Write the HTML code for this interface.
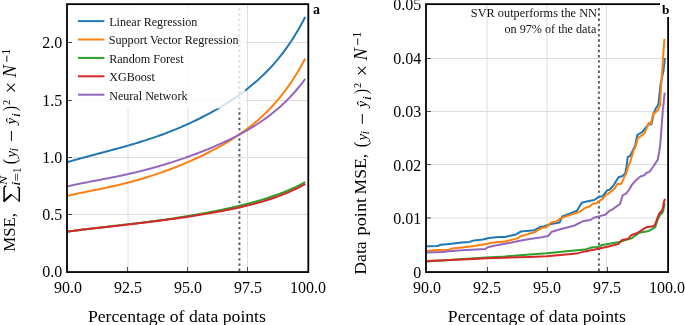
<!DOCTYPE html><html><head><meta charset="utf-8"><style>html,body{margin:0;padding:0;background:#fff;}svg{display:block;will-change:transform;}</style></head><body>
<svg width="685" height="325" viewBox="0 0 685 325" font-family='"Liberation Serif", serif'>
<rect width="685" height="325" fill="#fff"/>
<g>
<line x1="128.0" y1="4" x2="128.0" y2="272" stroke="#dedede" stroke-width="1.0"/>
<line x1="188.0" y1="4" x2="188.0" y2="272" stroke="#dedede" stroke-width="1.0"/>
<line x1="247.5" y1="4" x2="247.5" y2="272" stroke="#dedede" stroke-width="1.0"/>
<line x1="67" y1="214.5" x2="308" y2="214.5" stroke="#dedede" stroke-width="1.0"/>
<line x1="67" y1="157.5" x2="308" y2="157.5" stroke="#dedede" stroke-width="1.0"/>
<line x1="67" y1="100.5" x2="308" y2="100.5" stroke="#dedede" stroke-width="1.0"/>
<line x1="67" y1="42.5" x2="308" y2="42.5" stroke="#dedede" stroke-width="1.0"/>
<line x1="239.4" y1="8.1" x2="239.4" y2="272" stroke="#5c5c5c" stroke-width="2" stroke-dasharray="2.4 2.81"/>
<path d="M68.00,161.95 L69.50,161.52 L71.00,161.09 L72.50,160.66 L74.00,160.24 L75.50,159.81 L77.00,159.40 L78.50,158.98 L80.00,158.56 L81.50,158.15 L83.00,157.74 L84.50,157.33 L86.00,156.93 L87.50,156.52 L89.00,156.12 L90.50,155.72 L92.00,155.31 L93.50,154.91 L95.00,154.52 L96.50,154.12 L98.00,153.72 L99.50,153.32 L101.00,152.93 L102.50,152.53 L104.00,152.13 L105.50,151.74 L107.00,151.34 L108.50,150.94 L110.00,150.54 L111.50,150.14 L113.00,149.74 L114.50,149.33 L116.00,148.93 L117.50,148.52 L119.00,148.11 L120.50,147.70 L122.00,147.28 L123.50,146.87 L125.00,146.45 L126.50,146.02 L128.00,145.59 L129.50,145.16 L131.00,144.73 L132.50,144.29 L134.00,143.85 L135.50,143.40 L137.00,142.95 L138.50,142.49 L140.00,142.03 L141.50,141.57 L143.00,141.10 L144.50,140.62 L146.00,140.14 L147.50,139.65 L149.00,139.16 L150.50,138.66 L152.00,138.16 L153.50,137.65 L155.00,137.13 L156.50,136.61 L158.00,136.08 L159.50,135.55 L161.00,135.00 L162.50,134.45 L164.00,133.90 L165.50,133.34 L167.00,132.77 L168.50,132.19 L170.00,131.60 L171.50,131.01 L173.00,130.41 L174.50,129.81 L176.00,129.19 L177.50,128.57 L179.00,127.94 L180.50,127.31 L182.00,126.66 L183.50,126.01 L185.00,125.35 L186.50,124.68 L188.00,124.00 L189.50,123.31 L191.00,122.62 L192.50,121.92 L194.00,121.20 L195.50,120.48 L197.00,119.76 L198.50,119.02 L200.00,118.27 L201.50,117.51 L203.00,116.75 L204.50,115.97 L206.00,115.19 L207.50,114.39 L209.00,113.59 L210.50,112.77 L212.00,111.95 L213.50,111.11 L215.00,110.26 L216.50,109.40 L218.00,108.54 L219.50,107.66 L221.00,106.76 L222.50,105.86 L224.00,104.94 L225.50,104.01 L227.00,103.07 L228.50,102.11 L230.00,101.14 L231.50,100.16 L233.00,99.16 L234.50,98.15 L236.00,97.12 L237.50,96.07 L239.00,95.01 L240.50,93.93 L242.00,92.83 L243.50,91.72 L245.00,90.58 L246.50,89.43 L248.00,88.25 L249.50,87.06 L251.00,85.84 L252.50,84.60 L254.00,83.34 L255.50,82.05 L257.00,80.74 L258.50,79.40 L260.00,78.03 L261.50,76.64 L263.00,75.21 L264.50,73.76 L266.00,72.27 L267.50,70.75 L269.00,69.19 L270.50,67.60 L272.00,65.98 L273.50,64.31 L275.00,62.61 L276.50,60.86 L278.00,59.07 L279.50,57.23 L281.00,55.35 L282.50,53.42 L284.00,51.44 L285.50,49.41 L287.00,47.32 L288.50,45.18 L290.00,42.98 L291.50,40.72 L293.00,38.40 L294.50,36.01 L296.00,33.55 L297.50,31.02 L299.00,28.43 L300.50,25.75 L302.00,23.00 L303.50,20.17 L305.00,17.25 L305.20,16.85" fill="none" stroke="#1f77b4" stroke-width="2" stroke-linejoin="round" stroke-linecap="butt"/>
<path d="M68.00,195.73 L69.50,195.37 L71.00,195.02 L72.50,194.68 L74.00,194.35 L75.50,194.02 L77.00,193.70 L78.50,193.38 L80.00,193.07 L81.50,192.76 L83.00,192.45 L84.50,192.15 L86.00,191.84 L87.50,191.54 L89.00,191.24 L90.50,190.94 L92.00,190.64 L93.50,190.34 L95.00,190.04 L96.50,189.74 L98.00,189.43 L99.50,189.13 L101.00,188.82 L102.50,188.51 L104.00,188.20 L105.50,187.88 L107.00,187.56 L108.50,187.24 L110.00,186.91 L111.50,186.58 L113.00,186.24 L114.50,185.90 L116.00,185.56 L117.50,185.21 L119.00,184.85 L120.50,184.50 L122.00,184.13 L123.50,183.76 L125.00,183.39 L126.50,183.00 L128.00,182.62 L129.50,182.23 L131.00,181.83 L132.50,181.42 L134.00,181.01 L135.50,180.60 L137.00,180.17 L138.50,179.75 L140.00,179.31 L141.50,178.87 L143.00,178.42 L144.50,177.97 L146.00,177.51 L147.50,177.04 L149.00,176.57 L150.50,176.09 L152.00,175.61 L153.50,175.12 L155.00,174.62 L156.50,174.12 L158.00,173.61 L159.50,173.09 L161.00,172.57 L162.50,172.04 L164.00,171.50 L165.50,170.96 L167.00,170.41 L168.50,169.85 L170.00,169.29 L171.50,168.72 L173.00,168.15 L174.50,167.57 L176.00,166.98 L177.50,166.39 L179.00,165.78 L180.50,165.18 L182.00,164.56 L183.50,163.94 L185.00,163.31 L186.50,162.68 L188.00,162.04 L189.50,161.39 L191.00,160.73 L192.50,160.07 L194.00,159.40 L195.50,158.72 L197.00,158.03 L198.50,157.34 L200.00,156.64 L201.50,155.93 L203.00,155.21 L204.50,154.48 L206.00,153.75 L207.50,153.00 L209.00,152.25 L210.50,151.48 L212.00,150.71 L213.50,149.93 L215.00,149.13 L216.50,148.33 L218.00,147.51 L219.50,146.69 L221.00,145.85 L222.50,145.00 L224.00,144.14 L225.50,143.26 L227.00,142.37 L228.50,141.47 L230.00,140.55 L231.50,139.62 L233.00,138.68 L234.50,137.71 L236.00,136.74 L237.50,135.74 L239.00,134.73 L240.50,133.70 L242.00,132.65 L243.50,131.58 L245.00,130.49 L246.50,129.38 L248.00,128.25 L249.50,127.09 L251.00,125.92 L252.50,124.72 L254.00,123.49 L255.50,122.24 L257.00,120.96 L258.50,119.65 L260.00,118.32 L261.50,116.96 L263.00,115.56 L264.50,114.14 L266.00,112.68 L267.50,111.19 L269.00,109.66 L270.50,108.10 L272.00,106.50 L273.50,104.86 L275.00,103.18 L276.50,101.46 L278.00,99.70 L279.50,97.90 L281.00,96.05 L282.50,94.15 L284.00,92.21 L285.50,90.21 L287.00,88.17 L288.50,86.07 L290.00,83.92 L291.50,81.71 L293.00,79.45 L294.50,77.12 L296.00,74.74 L297.50,72.29 L299.00,69.78 L300.50,67.20 L302.00,64.55 L303.50,61.83 L305.00,59.04 L305.20,58.67" fill="none" stroke="#ff7f0e" stroke-width="2" stroke-linejoin="round" stroke-linecap="butt"/>
<path d="M68.00,231.64 L69.50,231.43 L71.00,231.22 L72.50,231.01 L74.00,230.80 L75.50,230.60 L77.00,230.40 L78.50,230.19 L80.00,230.00 L81.50,229.80 L83.00,229.61 L84.50,229.41 L86.00,229.22 L87.50,229.03 L89.00,228.85 L90.50,228.66 L92.00,228.47 L93.50,228.29 L95.00,228.11 L96.50,227.93 L98.00,227.75 L99.50,227.57 L101.00,227.39 L102.50,227.22 L104.00,227.04 L105.50,226.87 L107.00,226.69 L108.50,226.52 L110.00,226.34 L111.50,226.17 L113.00,226.00 L114.50,225.82 L116.00,225.65 L117.50,225.48 L119.00,225.31 L120.50,225.13 L122.00,224.96 L123.50,224.79 L125.00,224.61 L126.50,224.44 L128.00,224.26 L129.50,224.09 L131.00,223.91 L132.50,223.73 L134.00,223.56 L135.50,223.38 L137.00,223.20 L138.50,223.02 L140.00,222.83 L141.50,222.65 L143.00,222.47 L144.50,222.28 L146.00,222.09 L147.50,221.90 L149.00,221.71 L150.50,221.52 L152.00,221.33 L153.50,221.13 L155.00,220.93 L156.50,220.73 L158.00,220.53 L159.50,220.33 L161.00,220.13 L162.50,219.92 L164.00,219.71 L165.50,219.50 L167.00,219.29 L168.50,219.07 L170.00,218.86 L171.50,218.64 L173.00,218.41 L174.50,218.19 L176.00,217.96 L177.50,217.74 L179.00,217.50 L180.50,217.27 L182.00,217.03 L183.50,216.80 L185.00,216.56 L186.50,216.31 L188.00,216.07 L189.50,215.82 L191.00,215.57 L192.50,215.31 L194.00,215.06 L195.50,214.80 L197.00,214.54 L198.50,214.27 L200.00,214.00 L201.50,213.73 L203.00,213.46 L204.50,213.18 L206.00,212.90 L207.50,212.62 L209.00,212.34 L210.50,212.05 L212.00,211.76 L213.50,211.46 L215.00,211.17 L216.50,210.87 L218.00,210.56 L219.50,210.25 L221.00,209.94 L222.50,209.63 L224.00,209.31 L225.50,208.99 L227.00,208.67 L228.50,208.34 L230.00,208.00 L231.50,207.67 L233.00,207.33 L234.50,206.98 L236.00,206.63 L237.50,206.28 L239.00,205.92 L240.50,205.56 L242.00,205.19 L243.50,204.82 L245.00,204.44 L246.50,204.06 L248.00,203.67 L249.50,203.27 L251.00,202.87 L252.50,202.47 L254.00,202.06 L255.50,201.64 L257.00,201.21 L258.50,200.78 L260.00,200.34 L261.50,199.90 L263.00,199.44 L264.50,198.98 L266.00,198.51 L267.50,198.03 L269.00,197.55 L270.50,197.05 L272.00,196.54 L273.50,196.03 L275.00,195.50 L276.50,194.97 L278.00,194.42 L279.50,193.86 L281.00,193.29 L282.50,192.71 L284.00,192.11 L285.50,191.50 L287.00,190.88 L288.50,190.24 L290.00,189.59 L291.50,188.92 L293.00,188.24 L294.50,187.54 L296.00,186.82 L297.50,186.09 L299.00,185.34 L300.50,184.57 L302.00,183.77 L303.50,182.96 L305.00,182.13 L305.20,182.01" fill="none" stroke="#2ca02c" stroke-width="2" stroke-linejoin="round" stroke-linecap="butt"/>
<path d="M68.00,231.44 L69.50,231.25 L71.00,231.06 L72.50,230.87 L74.00,230.69 L75.50,230.50 L77.00,230.32 L78.50,230.14 L80.00,229.96 L81.50,229.78 L83.00,229.61 L84.50,229.43 L86.00,229.26 L87.50,229.08 L89.00,228.91 L90.50,228.74 L92.00,228.57 L93.50,228.40 L95.00,228.23 L96.50,228.06 L98.00,227.90 L99.50,227.73 L101.00,227.56 L102.50,227.39 L104.00,227.23 L105.50,227.06 L107.00,226.89 L108.50,226.73 L110.00,226.56 L111.50,226.39 L113.00,226.23 L114.50,226.06 L116.00,225.89 L117.50,225.72 L119.00,225.56 L120.50,225.39 L122.00,225.22 L123.50,225.05 L125.00,224.88 L126.50,224.71 L128.00,224.53 L129.50,224.36 L131.00,224.19 L132.50,224.01 L134.00,223.84 L135.50,223.66 L137.00,223.49 L138.50,223.31 L140.00,223.13 L141.50,222.95 L143.00,222.77 L144.50,222.59 L146.00,222.41 L147.50,222.22 L149.00,222.04 L150.50,221.85 L152.00,221.67 L153.50,221.48 L155.00,221.29 L156.50,221.10 L158.00,220.90 L159.50,220.71 L161.00,220.51 L162.50,220.32 L164.00,220.12 L165.50,219.92 L167.00,219.72 L168.50,219.52 L170.00,219.31 L171.50,219.11 L173.00,218.90 L174.50,218.69 L176.00,218.48 L177.50,218.27 L179.00,218.06 L180.50,217.84 L182.00,217.63 L183.50,217.41 L185.00,217.19 L186.50,216.96 L188.00,216.74 L189.50,216.51 L191.00,216.28 L192.50,216.05 L194.00,215.82 L195.50,215.59 L197.00,215.35 L198.50,215.11 L200.00,214.87 L201.50,214.62 L203.00,214.38 L204.50,214.13 L206.00,213.88 L207.50,213.62 L209.00,213.37 L210.50,213.11 L212.00,212.84 L213.50,212.58 L215.00,212.31 L216.50,212.04 L218.00,211.76 L219.50,211.49 L221.00,211.20 L222.50,210.92 L224.00,210.63 L225.50,210.34 L227.00,210.04 L228.50,209.74 L230.00,209.44 L231.50,209.13 L233.00,208.81 L234.50,208.49 L236.00,208.17 L237.50,207.84 L239.00,207.51 L240.50,207.17 L242.00,206.83 L243.50,206.48 L245.00,206.13 L246.50,205.77 L248.00,205.40 L249.50,205.03 L251.00,204.65 L252.50,204.26 L254.00,203.86 L255.50,203.46 L257.00,203.06 L258.50,202.64 L260.00,202.21 L261.50,201.78 L263.00,201.34 L264.50,200.89 L266.00,200.43 L267.50,199.96 L269.00,199.48 L270.50,198.99 L272.00,198.50 L273.50,197.99 L275.00,197.46 L276.50,196.93 L278.00,196.39 L279.50,195.83 L281.00,195.26 L282.50,194.68 L284.00,194.08 L285.50,193.48 L287.00,192.85 L288.50,192.21 L290.00,191.56 L291.50,190.89 L293.00,190.20 L294.50,189.50 L296.00,188.78 L297.50,188.05 L299.00,187.29 L300.50,186.52 L302.00,185.73 L303.50,184.91 L305.00,184.08 L305.20,183.97" fill="none" stroke="#d62728" stroke-width="2" stroke-linejoin="round" stroke-linecap="butt"/>
<path d="M68.00,186.20 L69.50,185.85 L71.00,185.52 L72.50,185.19 L74.00,184.87 L75.50,184.55 L77.00,184.24 L78.50,183.94 L80.00,183.64 L81.50,183.34 L83.00,183.04 L84.50,182.75 L86.00,182.46 L87.50,182.17 L89.00,181.89 L90.50,181.60 L92.00,181.32 L93.50,181.04 L95.00,180.75 L96.50,180.47 L98.00,180.19 L99.50,179.90 L101.00,179.62 L102.50,179.33 L104.00,179.05 L105.50,178.76 L107.00,178.47 L108.50,178.18 L110.00,177.88 L111.50,177.58 L113.00,177.29 L114.50,176.98 L116.00,176.68 L117.50,176.37 L119.00,176.06 L120.50,175.74 L122.00,175.42 L123.50,175.10 L125.00,174.77 L126.50,174.44 L128.00,174.11 L129.50,173.77 L131.00,173.42 L132.50,173.08 L134.00,172.72 L135.50,172.37 L137.00,172.01 L138.50,171.64 L140.00,171.27 L141.50,170.89 L143.00,170.51 L144.50,170.13 L146.00,169.74 L147.50,169.34 L149.00,168.94 L150.50,168.54 L152.00,168.13 L153.50,167.71 L155.00,167.29 L156.50,166.87 L158.00,166.44 L159.50,166.01 L161.00,165.56 L162.50,165.12 L164.00,164.67 L165.50,164.21 L167.00,163.75 L168.50,163.29 L170.00,162.82 L171.50,162.34 L173.00,161.86 L174.50,161.37 L176.00,160.88 L177.50,160.39 L179.00,159.88 L180.50,159.38 L182.00,158.87 L183.50,158.35 L185.00,157.83 L186.50,157.30 L188.00,156.77 L189.50,156.23 L191.00,155.68 L192.50,155.13 L194.00,154.58 L195.50,154.02 L197.00,153.45 L198.50,152.88 L200.00,152.30 L201.50,151.72 L203.00,151.13 L204.50,150.53 L206.00,149.93 L207.50,149.32 L209.00,148.71 L210.50,148.09 L212.00,147.46 L213.50,146.82 L215.00,146.18 L216.50,145.53 L218.00,144.88 L219.50,144.21 L221.00,143.54 L222.50,142.86 L224.00,142.17 L225.50,141.47 L227.00,140.77 L228.50,140.05 L230.00,139.33 L231.50,138.60 L233.00,137.85 L234.50,137.10 L236.00,136.33 L237.50,135.56 L239.00,134.77 L240.50,133.97 L242.00,133.16 L243.50,132.33 L245.00,131.50 L246.50,130.64 L248.00,129.78 L249.50,128.90 L251.00,128.00 L252.50,127.09 L254.00,126.17 L255.50,125.22 L257.00,124.26 L258.50,123.28 L260.00,122.28 L261.50,121.26 L263.00,120.22 L264.50,119.16 L266.00,118.08 L267.50,116.98 L269.00,115.85 L270.50,114.70 L272.00,113.52 L273.50,112.32 L275.00,111.09 L276.50,109.84 L278.00,108.55 L279.50,107.24 L281.00,105.89 L282.50,104.51 L284.00,103.10 L285.50,101.66 L287.00,100.18 L288.50,98.66 L290.00,97.11 L291.50,95.52 L293.00,93.89 L294.50,92.21 L296.00,90.50 L297.50,88.74 L299.00,86.93 L300.50,85.08 L302.00,83.18 L303.50,81.23 L305.00,79.23 L305.20,78.96" fill="none" stroke="#9467bd" stroke-width="2" stroke-linejoin="round" stroke-linecap="butt"/>
<rect x="69" y="6" width="176.2" height="102.5" fill="#fff" fill-opacity="0.8"/>
<line x1="78" y1="21.10" x2="104.4" y2="21.10" stroke="#1f77b4" stroke-width="2"/>
<text transform="translate(109.16,25.9) scale(1.0083,1)" font-size="12" fill="#111">Linear Regression</text>
<line x1="78" y1="39.50" x2="104.4" y2="39.50" stroke="#ff7f0e" stroke-width="2"/>
<text transform="translate(108.67,44.3) scale(1.0132,1)" font-size="12" fill="#111">Support Vector Regression</text>
<line x1="78" y1="57.90" x2="104.4" y2="57.90" stroke="#2ca02c" stroke-width="2"/>
<text transform="translate(109.16,62.7) scale(1.0115,1)" font-size="12" fill="#111">Random Forest</text>
<line x1="78" y1="76.30" x2="104.4" y2="76.30" stroke="#d62728" stroke-width="2"/>
<text transform="translate(109.16,81.1) scale(1.0084,1)" font-size="12" fill="#111">XGBoost</text>
<line x1="78" y1="94.70" x2="104.4" y2="94.70" stroke="#9467bd" stroke-width="2"/>
<text transform="translate(109.16,99.5) scale(1.0103,1)" font-size="12" fill="#111">Neural Network</text>
<line x1="127.5" y1="272" x2="127.5" y2="267" stroke="#4a4a4a" stroke-width="1"/>
<line x1="187.5" y1="272" x2="187.5" y2="267" stroke="#4a4a4a" stroke-width="1"/>
<line x1="247.5" y1="272" x2="247.5" y2="267" stroke="#4a4a4a" stroke-width="1"/>
<line x1="67" y1="214.5" x2="72" y2="214.5" stroke="#4a4a4a" stroke-width="1"/>
<line x1="67" y1="157.5" x2="72" y2="157.5" stroke="#4a4a4a" stroke-width="1"/>
<line x1="67" y1="100.5" x2="72" y2="100.5" stroke="#4a4a4a" stroke-width="1"/>
<line x1="67" y1="42.5" x2="72" y2="42.5" stroke="#4a4a4a" stroke-width="1"/>
<rect x="67.0" y="4.15" width="241.3" height="267.9" fill="none" stroke="#000" stroke-width="1.8"/>
<text x="62.3" y="277.10" font-size="16" text-anchor="end" fill="#000">0.0</text>
<text x="62.3" y="219.90" font-size="16" text-anchor="end" fill="#000">0.5</text>
<text x="62.3" y="162.70" font-size="16" text-anchor="end" fill="#000">1.0</text>
<text x="62.3" y="105.50" font-size="16" text-anchor="end" fill="#000">1.5</text>
<text x="62.3" y="48.30" font-size="16" text-anchor="end" fill="#000">2.0</text>
<text x="68" y="293.3" font-size="16" text-anchor="middle" fill="#000">90.0</text>
<text x="128.0" y="293.3" font-size="16" text-anchor="middle" fill="#000">92.5</text>
<text x="188" y="293.3" font-size="16" text-anchor="middle" fill="#000">95.0</text>
<text x="248.0" y="293.3" font-size="16" text-anchor="middle" fill="#000">97.5</text>
<text x="308" y="293.3" font-size="16" text-anchor="middle" fill="#000">100.0</text>
<text transform="translate(87.95,321.7) scale(1.0271,1)" font-size="17.2" fill="#000">Percentage of data points</text>
<text x="313" y="13.8" font-size="14" font-weight="bold" fill="#000">a</text>
</g>
<g>
<line x1="487.0" y1="4" x2="487.0" y2="272" stroke="#dedede" stroke-width="1.0"/>
<line x1="547.0" y1="4" x2="547.0" y2="272" stroke="#dedede" stroke-width="1.0"/>
<line x1="606.5" y1="4" x2="606.5" y2="272" stroke="#dedede" stroke-width="1.0"/>
<line x1="426" y1="218.0" x2="668" y2="218.0" stroke="#dedede" stroke-width="1.0"/>
<line x1="426" y1="164.5" x2="668" y2="164.5" stroke="#dedede" stroke-width="1.0"/>
<line x1="426" y1="111.5" x2="668" y2="111.5" stroke="#dedede" stroke-width="1.0"/>
<line x1="426" y1="58.5" x2="668" y2="58.5" stroke="#dedede" stroke-width="1.0"/>
<line x1="598.9" y1="8.1" x2="598.9" y2="272" stroke="#5c5c5c" stroke-width="2" stroke-dasharray="2.4 2.81"/>
<path d="M427.00,246.30 L437.30,246.00 L441.00,244.70 L449.60,243.90 L461.90,242.60 L469.30,241.90 L474.20,240.40 L482.80,239.40 L489.00,238.00 L498.80,237.10 L505.00,236.90 L516.10,234.40 L521.00,231.40 L534.50,230.20 L539.50,227.30 L544.40,226.10 L552.30,223.70 L559.70,222.40 L562.20,216.50 L568.30,214.10 L576.90,210.70 L581.80,202.70 L586.80,201.50 L594.20,200.00 L597.80,197.60 L600.00,196.40 L602.50,196.40 L607.40,190.20 L609.90,189.60 L613.50,185.30 L618.50,177.30 L622.10,176.30 L625.20,173.50 L626.40,167.60 L627.70,157.20 L630.10,156.00 L632.60,151.00 L635.20,145.50 L637.20,135.10 L642.20,132.00 L648.90,124.00 L651.40,124.60 L653.90,112.90 L655.70,108.60 L657.50,106.00 L658.50,103.50 L660.40,85.30 L663.50,70.50 L664.90,58.20" fill="none" stroke="#1f77b4" stroke-width="2" stroke-linejoin="round"/>
<path d="M427.00,250.90 L437.30,250.00 L449.60,249.70 L452.10,248.40 L461.90,247.40 L474.20,246.00 L486.50,244.10 L490.20,242.90 L498.80,241.90 L505.00,241.50 L517.50,238.40 L520.50,236.30 L527.20,234.40 L534.50,232.30 L538.20,229.80 L541.90,228.00 L546.20,227.30 L548.10,225.50 L551.10,222.40 L556.00,221.80 L560.90,218.10 L572.00,214.40 L579.40,212.00 L585.50,207.70 L589.20,206.70 L592.90,203.70 L596.60,203.30 L599.10,200.90 L602.80,199.00 L606.20,194.50 L607.70,194.10 L613.80,189.20 L614.80,188.40 L617.20,184.00 L621.30,183.80 L624.60,176.30 L625.90,174.20 L627.10,170.50 L628.30,166.40 L630.80,160.30 L633.20,151.70 L635.80,145.50 L637.90,138.10 L644.60,133.20 L648.90,122.70 L650.80,124.00 L653.30,113.50 L655.70,112.30 L658.20,109.80 L659.20,107.40 L660.00,105.50 L661.00,87.70 L662.20,70.50 L664.40,38.90" fill="none" stroke="#ff7f0e" stroke-width="2" stroke-linejoin="round"/>
<path d="M427.00,261.40 L449.60,260.10 L470.50,258.60 L486.50,257.40 L505.00,256.40 L529.60,254.40 L546.80,253.20 L566.50,251.30 L585.00,249.60 L592.40,247.30 L598.50,246.90 L602.20,245.00 L619.50,242.00 L626.80,239.50 L631.80,238.30 L639.20,232.70 L649.00,230.90 L655.20,227.20 L657.80,219.30 L660.30,214.40 L662.20,213.20 L663.40,210.10 L664.60,203.00" fill="none" stroke="#2ca02c" stroke-width="2" stroke-linejoin="round"/>
<path d="M427.00,261.10 L449.60,259.90 L474.20,258.90 L486.50,258.30 L505.00,257.70 L529.60,256.90 L546.80,256.30 L560.40,255.00 L576.40,253.60 L585.00,251.40 L597.30,249.00 L609.60,246.30 L618.20,244.10 L621.90,240.10 L628.10,238.90 L631.20,235.20 L637.90,232.70 L646.50,227.20 L653.90,226.00 L655.50,223.50 L657.00,219.00 L659.10,213.80 L661.50,211.30 L662.80,208.30 L664.00,201.50 L665.00,198.80" fill="none" stroke="#d62728" stroke-width="2" stroke-linejoin="round"/>
<path d="M427.00,252.50 L443.50,252.10 L445.90,251.50 L461.90,250.30 L485.30,249.00 L487.80,247.20 L492.70,246.00 L505.00,243.80 L517.30,241.30 L529.60,239.00 L541.90,237.20 L548.10,236.00 L551.80,231.70 L560.40,229.20 L569.00,227.00 L574.50,225.50 L583.10,221.20 L585.00,220.70 L589.50,220.30 L594.50,217.50 L599.80,216.10 L605.20,214.80 L609.90,210.50 L611.40,210.10 L618.50,205.00 L620.00,204.00 L622.80,195.10 L625.90,193.90 L629.60,189.00 L631.40,185.50 L635.70,180.40 L640.60,176.30 L641.90,176.00 L644.30,175.30 L646.70,172.80 L649.20,171.90 L650.00,171.10 L652.90,167.00 L657.80,159.60 L659.00,152.90 L660.20,145.50 L662.80,110.50 L663.60,103.50 L664.70,92.70" fill="none" stroke="#9467bd" stroke-width="2" stroke-linejoin="round"/>
<text transform="translate(470.86,17.0) scale(1.0262,1)" font-size="12" fill="#111">SVR outperforms the NN</text>
<text transform="translate(504.43,32.8) scale(1.0141,1)" font-size="12" fill="#111">on 97% of the data</text>
<line x1="487.5" y1="272" x2="487.5" y2="267" stroke="#4a4a4a" stroke-width="1"/>
<line x1="547.5" y1="272" x2="547.5" y2="267" stroke="#4a4a4a" stroke-width="1"/>
<line x1="607.5" y1="272" x2="607.5" y2="267" stroke="#4a4a4a" stroke-width="1"/>
<line x1="426" y1="218.0" x2="431" y2="218.0" stroke="#4a4a4a" stroke-width="1"/>
<line x1="426" y1="164.5" x2="431" y2="164.5" stroke="#4a4a4a" stroke-width="1"/>
<line x1="426" y1="111.5" x2="431" y2="111.5" stroke="#4a4a4a" stroke-width="1"/>
<line x1="426" y1="58.5" x2="431" y2="58.5" stroke="#4a4a4a" stroke-width="1"/>
<rect x="426.0" y="4.15" width="242.1" height="267.9" fill="none" stroke="#000" stroke-width="1.8"/>
<text x="421.3" y="277.60" font-size="16" text-anchor="end" fill="#000">0</text>
<text x="421.3" y="224.10" font-size="16" text-anchor="end" fill="#000">0.01</text>
<text x="421.3" y="170.60" font-size="16" text-anchor="end" fill="#000">0.02</text>
<text x="421.3" y="117.10" font-size="16" text-anchor="end" fill="#000">0.03</text>
<text x="421.3" y="63.60" font-size="16" text-anchor="end" fill="#000">0.04</text>
<text x="421.3" y="10.10" font-size="16" text-anchor="end" fill="#000">0.05</text>
<text x="427" y="293.3" font-size="16" text-anchor="middle" fill="#000">90.0</text>
<text x="487.0" y="293.3" font-size="16" text-anchor="middle" fill="#000">92.5</text>
<text x="547" y="293.3" font-size="16" text-anchor="middle" fill="#000">95.0</text>
<text x="607.0" y="293.3" font-size="16" text-anchor="middle" fill="#000">97.5</text>
<text x="667" y="293.3" font-size="16" text-anchor="middle" fill="#000">100.0</text>
<text transform="translate(447.85,321.7) scale(1.0271,1)" font-size="17.2" fill="#000">Percentage of data points</text>
<rect x="660" y="0" width="12" height="17" fill="#fff"/>
<text x="662.0" y="13.7" font-size="13.4" font-weight="bold" fill="#000">b</text>
</g>
<text transform="translate(15.20,251.74) rotate(-90) scale(1.024,1)" font-size="16.40" fill="#000">MSE,</text>
<path d="M4.1,201.4 L4.1,187.6 Q4.1,186.3 6.3,186.0" fill="none" stroke="#000" stroke-width="1.5"/>
<path d="M19.3,201.4 L19.3,188.6 Q19.3,187.4 17.4,187.1" fill="none" stroke="#000" stroke-width="1.5"/>
<path d="M3.6,201.6 L11.6,194.6" fill="none" stroke="#000" stroke-width="2"/>
<path d="M11.6,194.6 L19.6,201.6" fill="none" stroke="#000" stroke-width="1"/>
<text transform="translate(7.19,184.96) rotate(-90) scale(1.226,1)" font-size="11.06" font-style="italic" fill="#000">N</text>
<text transform="translate(20.49,185.75) rotate(-90) scale(1.305,1)" font-size="11.49" font-style="italic" fill="#000">i</text>
<text transform="translate(21.37,181.41) rotate(-90) scale(1.152,1)" font-size="13.20" fill="#000">=</text>
<text transform="translate(20.60,173.07) rotate(-90) scale(0.929,1)" font-size="11.67" fill="#000">1</text>
<text transform="translate(16.09,164.34) rotate(-90) scale(0.852,1)" font-size="18.70" fill="#000">(</text>
<text transform="translate(15.72,157.55) rotate(-90) scale(0.990,1)" font-size="15.15" font-style="italic" fill="#000">y</text>
<text transform="translate(18.38,151.45) rotate(-90) scale(1.062,1)" font-size="12.24" font-style="italic" fill="#000">i</text>
<rect x="10.9" y="131" width="1" height="9.8" fill="#000"/>
<text transform="translate(15.74,124.22) rotate(-90) scale(0.947,1)" font-size="15.05" font-style="italic" fill="#000">ŷ</text>
<text transform="translate(20.08,117.25) rotate(-90) scale(1.226,1)" font-size="12.24" font-style="italic" fill="#000">i</text>
<text transform="translate(15.88,110.95) rotate(-90) scale(0.841,1)" font-size="17.83" fill="#000">)</text>
<text transform="translate(9.69,105.02) rotate(-90) scale(0.963,1)" font-size="10.90" fill="#000">2</text>
<text transform="translate(18.10,93.30) rotate(-90) scale(1.000,1)" font-size="20.00" fill="#000">×</text>
<text transform="translate(16.02,77.51) rotate(-90) scale(1.025,1)" font-size="18.18" font-style="italic" fill="#000">N</text>
<rect x="6.4" y="55.5" width="0.9" height="6.4" fill="#000"/>
<text transform="translate(10.30,54.66) rotate(-90) scale(0.973,1)" font-size="12.27" fill="#000">1</text>
<text transform="translate(366.10,274.65) rotate(-90) scale(1.076,1)" font-size="16.40" fill="#000">Data</text>
<text transform="translate(366.10,235.38) rotate(-90) scale(1.114,1)" font-size="16.40" fill="#000">point</text>
<text transform="translate(366.10,194.45) rotate(-90) scale(1.071,1)" font-size="16.40" fill="#000">MSE,</text>
<g transform="translate(350.9,-17.0)"><text transform="translate(16.09,164.34) rotate(-90) scale(0.852,1)" font-size="18.70" fill="#000">(</text>
<text transform="translate(15.72,157.55) rotate(-90) scale(0.990,1)" font-size="15.15" font-style="italic" fill="#000">y</text>
<text transform="translate(18.38,151.45) rotate(-90) scale(1.062,1)" font-size="12.24" font-style="italic" fill="#000">i</text>
<rect x="10.9" y="131" width="1" height="9.8" fill="#000"/>
<text transform="translate(15.74,124.22) rotate(-90) scale(0.947,1)" font-size="15.05" font-style="italic" fill="#000">ŷ</text>
<text transform="translate(20.08,117.25) rotate(-90) scale(1.226,1)" font-size="12.24" font-style="italic" fill="#000">i</text>
<text transform="translate(15.88,110.95) rotate(-90) scale(0.841,1)" font-size="17.83" fill="#000">)</text>
<text transform="translate(9.69,105.02) rotate(-90) scale(0.963,1)" font-size="10.90" fill="#000">2</text>
<text transform="translate(18.10,93.30) rotate(-90) scale(1.000,1)" font-size="20.00" fill="#000">×</text>
<text transform="translate(16.02,77.51) rotate(-90) scale(1.025,1)" font-size="18.18" font-style="italic" fill="#000">N</text>
<rect x="6.4" y="55.5" width="0.9" height="6.4" fill="#000"/>
<text transform="translate(10.30,54.66) rotate(-90) scale(0.973,1)" font-size="12.27" fill="#000">1</text></g>
</svg></body></html>
